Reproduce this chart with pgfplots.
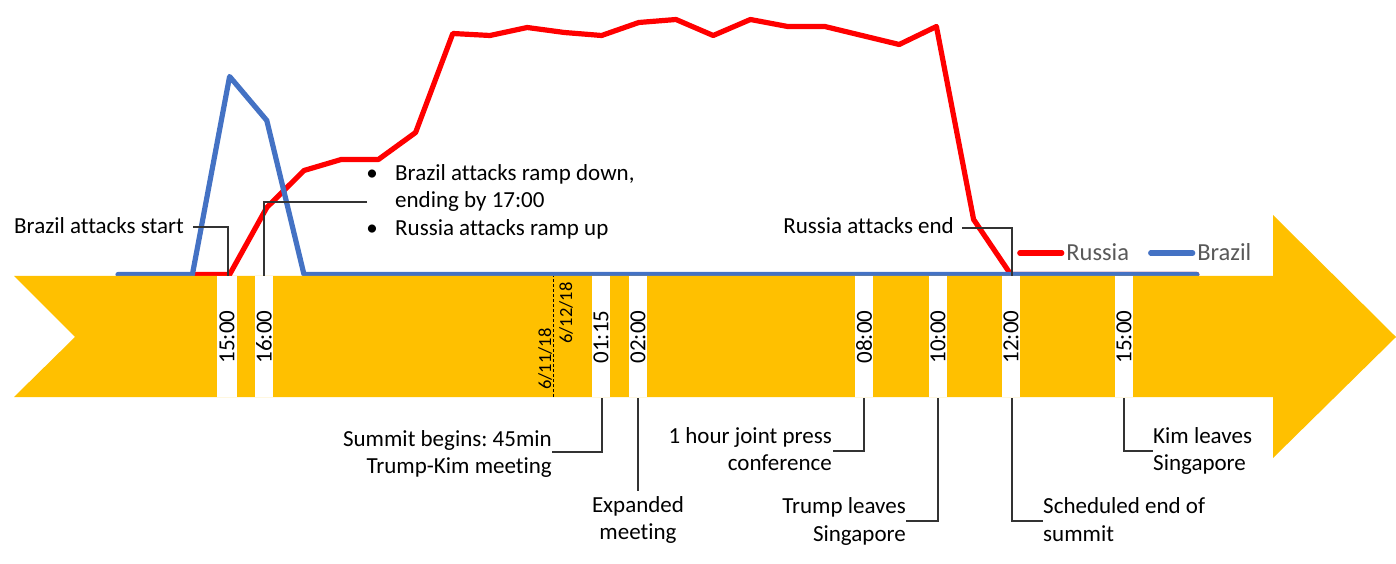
\documentclass[border=0pt]{standalone}
\usepackage{fontspec}
\setmainfont{Carlito}[Ligatures=CommonOff]
\usepackage{pgfplots}
\pgfplotsset{compat=1.18}
\usepackage{pgfplotstable}
\definecolor{arrowyellow}{HTML}{FFC000}
\definecolor{rured}{HTML}{FF0000}
\definecolor{brblue}{HTML}{4472C4}
\definecolor{legtext}{HTML}{595959}
\definecolor{callout}{HTML}{333333}
\frenchspacing

\pgfplotstableread{
k v
2 0
3 0
4 67
5 104
6 115
7 115
8 142
9 241
10 239
11 247
12 242
13 239
14 252
15 255
16 239
17 255
18 248
19 248
20 239
21 230
22 248
23 55
24 0
25 0
26 0
27 0
28 0
29 0
}\russia

\pgfplotstableread{
k v
0 0
1 0
2 0
3 198
4 154
5 0
6 0
7 0
8 0
9 0
10 0
11 0
12 0
13 0
14 0
15 0
16 0
17 0
18 0
19 0
20 0
21 0
22 0
23 0
24 0
25 0
26 0
27 0
28 0
29 0
}\brazil

\newcommand{\annfont}{\fontsize{23}{27}\selectfont}
\newcommand{\gap}[2]{\fill[white] (#1,166) rectangle (#2,287);}
\newcommand{\tlab}[2]{\node[rotate=90, font=\annfont, inner sep=0pt] at (#1,226) {#2};}

\begin{document}
\begin{tikzpicture}
\begin{axis}[
  scale only axis, width=1396pt, height=563pt,
  xmin=0, xmax=1396, ymin=0, ymax=563,
  hide axis, clip=false,
  legend columns=2,
  legend style={at={(axis description cs:0.7285,0.5506)}, anchor=west,
    draw=none, fill=none, inner sep=0pt, text=legtext,
    font=\fontsize{24.5}{28}\selectfont,
    /tikz/every even column/.append style={column sep=17pt}},
  legend image code/.code={\draw[#1, line cap=round] (0pt,0pt) -- (42pt,0pt);},
]
\addplot[rured, line width=5.2pt, line join=round, line cap=round]
  table[x expr=118+37.2*\thisrow{k}, y expr=288.5+\thisrow{v}] {\russia};
\addlegendentry{Russia}
\addplot[brblue, line width=5.2pt, line join=round, line cap=round]
  table[x expr=118+37.2*\thisrow{k}, y expr=288.5+\thisrow{v}] {\brazil};
\addlegendentry{Brazil}

% timeline arrow
\fill[arrowyellow] (14,287) -- (1273,287) -- (1273,348) -- (1396,226) -- (1273,105)
  -- (1273,166) -- (14,166) -- (75,226) -- cycle;
\gap{217}{237}
\gap{255}{273}
\gap{592}{610}
\gap{629}{647}
\gap{855}{873}
\gap{929}{947}
\gap{1002}{1020}
\gap{1115}{1133}

% time labels
\tlab{227}{15:00}
\tlab{264}{16:00}
\tlab{601}{01:15}
\tlab{638}{02:00}
\tlab{864}{08:00}
\tlab{938}{10:00}
\tlab{1011}{12:00}
\tlab{1124}{15:00}

% date separator
\draw[black, line width=0.8pt, dash pattern=on 3pt off 2pt] (553,166) -- (553,287);
\node[rotate=90, font=\fontsize{18.5}{22}\selectfont, inner sep=0pt] at (545,204) {6/11/18};
\node[rotate=90, font=\fontsize{18.5}{22}\selectfont, inner sep=0pt] at (566,250) {6/12/18};

% callouts above
\draw[callout, line width=1.2pt] (193,336) -- (228,336) -- (228,287);
\node[font=\annfont, anchor=base east, inner sep=0pt] at (184,329) {Brazil attacks start};

\draw[callout, line width=1.2pt] (367,361) -- (264,361) -- (264,287);
\node[font=\annfont, anchor=base west, inner sep=0pt] at (395,382) {Brazil attacks ramp down,};
\node[font=\annfont, anchor=base west, inner sep=0pt] at (395,355) {ending by 17:00};
\node[font=\annfont, anchor=base west, inner sep=0pt] at (395,327.5) {Russia attacks ramp up};
\node[font=\annfont, anchor=base, inner sep=0pt] at (372,382) {\textbullet};
\node[font=\annfont, anchor=base, inner sep=0pt] at (372,327.5) {\textbullet};

\draw[callout, line width=1.2pt] (962,335) -- (1012,335) -- (1012,287);
\node[font=\annfont, anchor=base east, inner sep=0pt] at (954,329) {Russia attacks end};

% callouts below
\draw[callout, line width=1.2pt] (602,165) -- (602,111) -- (552,111);
\node[font=\annfont, anchor=base east, inner sep=0pt] at (552,117) {Summit begins: 45min};
\node[font=\annfont, anchor=base east, inner sep=0pt] at (552,90) {Trump-Kim meeting};

\draw[callout, line width=1.2pt] (638,165) -- (638,72);
\node[font=\annfont, anchor=base, inner sep=0pt] at (638,51) {Expanded};
\node[font=\annfont, anchor=base, inner sep=0pt] at (638,24) {meeting};

\draw[callout, line width=1.2pt] (864,165) -- (864,112) -- (833,112);
\node[font=\annfont, anchor=base east, inner sep=0pt] at (832,120) {1 hour joint press};
\node[font=\annfont, anchor=base east, inner sep=0pt] at (832,93) {conference};

\draw[callout, line width=1.2pt] (938,165) -- (938,42) -- (906,42);
\node[font=\annfont, anchor=base east, inner sep=0pt] at (906,50) {Trump leaves};
\node[font=\annfont, anchor=base east, inner sep=0pt] at (906,22) {Singapore};

\draw[callout, line width=1.2pt] (1012,165) -- (1012,42) -- (1043,42);
\node[font=\annfont, anchor=base west, inner sep=0pt] at (1043,50) {Scheduled end of};
\node[font=\annfont, anchor=base west, inner sep=0pt] at (1043,22) {summit};

\draw[callout, line width=1.2pt] (1124,165) -- (1124,112) -- (1153,112);
\node[font=\annfont, anchor=base west, inner sep=0pt] at (1153,120) {Kim leaves};
\node[font=\annfont, anchor=base west, inner sep=0pt] at (1153,93) {Singapore};
\end{axis}
\pgfresetboundingbox
\path (0,0) rectangle (1396pt,563pt);
\end{tikzpicture}
\end{document}
